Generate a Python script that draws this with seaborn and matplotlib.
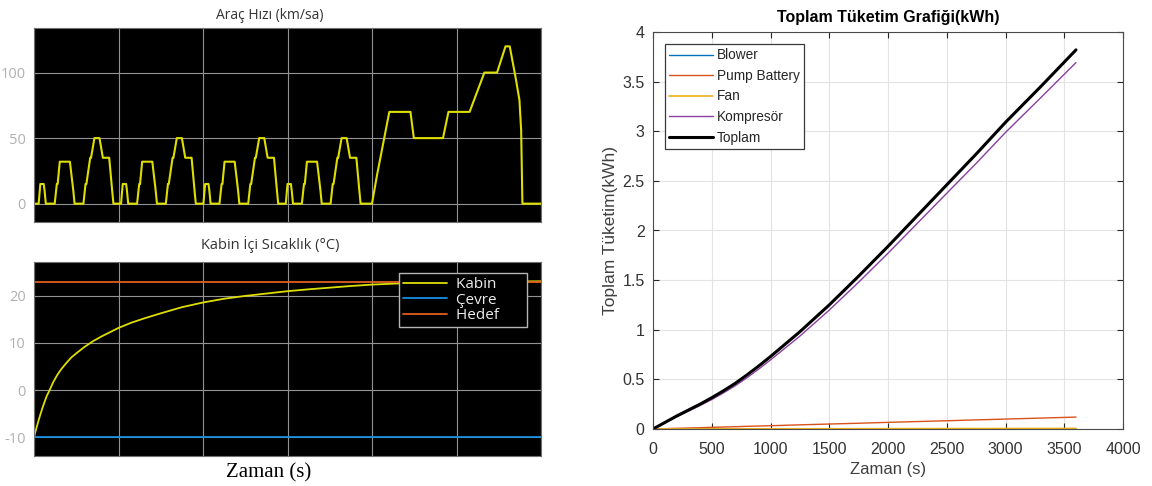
import numpy as np
import pandas as pd
import matplotlib
matplotlib.use("Agg")
import matplotlib.pyplot as plt
import seaborn as sns

# ---------------- data ----------------
# vehicle speed profile (time s, speed km/h) read from the top-left scope
speed_t = [0, 11, 15, 23, 25, 28, 49, 54, 56, 61, 85, 93, 96, 117, 122, 124, 133, 135, 143, 155, 163, 176, 178, 185, 188,
           195, 206, 210, 218, 220, 223, 244, 249, 251, 256, 280, 288, 291, 312, 317, 319, 328, 330, 338, 350, 358, 371, 373, 380, 383,
           390, 401, 405, 413, 415, 418, 439, 444, 446, 451, 475, 483, 486, 507, 512, 514, 523, 525, 533, 545, 553, 566, 568, 575, 578,
           585, 596, 600, 608, 610, 613, 634, 639, 641, 646, 670, 678, 681, 702, 707, 709, 718, 720, 728, 740, 748, 761, 763, 770, 773,
           780, 800, 812, 841, 891, 899, 968, 981, 1031, 1066, 1096, 1116, 1126, 1140, 1149, 1153, 1156, 1200]
speed_v = [0, 0, 15, 15, 10, 0, 0, 15, 15, 32, 32, 10, 0, 0, 15, 15, 35, 35, 50, 50, 35, 35, 35, 10, 0,
           0, 0, 15, 15, 10, 0, 0, 15, 15, 32, 32, 10, 0, 0, 15, 15, 35, 35, 50, 50, 35, 35, 35, 10, 0,
           0, 0, 15, 15, 10, 0, 0, 15, 15, 32, 32, 10, 0, 0, 15, 15, 35, 35, 50, 50, 35, 35, 35, 10, 0,
           0, 0, 15, 15, 10, 0, 0, 15, 15, 32, 32, 10, 0, 0, 15, 15, 35, 35, 50, 50, 35, 35, 35, 10, 0,
           0, 0, 22, 70, 70, 50, 50, 70, 70, 100, 100, 120, 120, 96, 79, 56, 0, 0]

# cabin temperature (time s, degC)
cabin_t = [0, 5, 10, 15, 20, 25, 30, 37, 45, 55, 65, 77, 88, 100, 120, 140, 160, 180, 200, 230, 260, 300, 350,
           400, 450, 500, 550, 600, 650, 700, 750, 800, 850, 900, 1000, 1100, 1200]
cabin_T = [-10, -8.3, -6.7, -5.2, -3.8, -2.5, -1.3, 0, 1.6, 3.2, 4.5, 5.8, 6.9, 7.8, 9.2, 10.4, 11.4, 12.3, 13.2,
           14.3, 15.2, 16.3, 17.6, 18.6, 19.4, 20.0, 20.5, 21.0, 21.4, 21.75, 22.1, 22.4, 22.6, 22.75, 22.95, 23.05, 23.1]
ambient_T = -10
target_T = 23
temp_labels = ["Kabin", "Çevre", "Hedef"]

# energy consumption (time s, kWh)
energy_t = [0, 100, 200, 300, 400, 500, 600, 700, 800, 900, 1000, 1250, 1500, 1750, 2000, 2250, 2500, 2750, 3000, 3300, 3600]
blower = [0, 0.0001, 0.0001, 0.0002, 0.0002, 0.0003, 0.0003, 0.0004, 0.0005, 0.0005, 0.0006, 0.0007, 0.0009, 0.001,
          0.0012, 0.0013, 0.0015, 0.0016, 0.0018, 0.0019, 0.002]
pump_battery = [0, 0.0035, 0.007, 0.01, 0.013, 0.017, 0.02, 0.023, 0.027, 0.03, 0.033, 0.042, 0.05, 0.058, 0.067,
                0.075, 0.083, 0.092, 0.1, 0.11, 0.12]
fan = [0, 0.0002, 0.0003, 0.0005, 0.0007, 0.0008, 0.001, 0.0012, 0.0013, 0.0015, 0.0017, 0.0021, 0.0025, 0.0029,
       0.0033, 0.0038, 0.0042, 0.0046, 0.005, 0.0055, 0.006]
kompresor = [0, 0.061, 0.122, 0.179, 0.236, 0.297, 0.364, 0.436, 0.517, 0.604, 0.696, 0.936, 1.198, 1.479, 1.771,
             2.073, 2.375, 2.676, 2.988, 3.338, 3.692]
toplam = [0, 0.065, 0.13, 0.19, 0.25, 0.315, 0.385, 0.46, 0.545, 0.635, 0.73, 0.98, 1.25, 1.54, 1.84, 2.15, 2.46,
          2.77, 3.09, 3.45, 3.82]
energy_labels = ["Blower", "Pump Battery", "Fan", "Kompresör", "Toplam"]

# ---------------- style ----------------
sns.set_style("white")
plt.rcParams['font.family'] = ['Open Sans', 'DejaVu Sans']
plt.rcParams['axes.unicode_minus'] = False

fig = plt.figure(figsize=(11.52, 4.86), dpi=100)
fig.patch.set_facecolor("white")

W, H = 1152, 486
def box(l, t, r, b):
    return [l / W, 1 - b / H, (r - l) / W, (b - t) / H]

ax1 = fig.add_axes(box(34, 28, 541, 222))
ax2 = fig.add_axes(box(34, 262, 541, 456))
ax3 = fig.add_axes(box(653, 32, 1123, 429))

scope_grid = "#939393"
tick_gray = "#b0b0b0"
title_gray = "#333333"

def scope_style(ax):
    ax.set_facecolor("black")
    ax.set_xlim(0, 1200)
    ax.set_xticks(np.arange(0, 1201, 200))
    ax.set_xticklabels([])
    ax.grid(True, color=scope_grid, lw=0.8)
    for s in ax.spines.values():
        s.set_color("#707070")
        s.set_linewidth(0.8)
    ax.tick_params(axis="both", length=0, colors=tick_gray, labelsize=10.5, pad=6)
    ax.set_xlabel("")
    ax.set_ylabel("")

# --- top-left: speed ---
df_speed = pd.DataFrame({"t": speed_t, "v": speed_v})
sns.lineplot(data=df_speed, x="t", y="v", ax=ax1, color="#dede00", lw=1.5, sort=False)
scope_style(ax1)
ax1.set_ylim(-14, 134)
ax1.set_yticks([0, 50, 100])
ax1.text(0.465, 1.025, "Araç Hızı (km/sa)", transform=ax1.transAxes, ha="center", va="bottom",
         color=title_gray, fontsize=10)

# --- bottom-left: temperatures ---
df_cab = pd.DataFrame({"t": cabin_t, "T": cabin_T})
sns.lineplot(data=df_cab, x="t", y="T", ax=ax2, color="#dede00", lw=1.3, label=temp_labels[0])
df_amb = pd.DataFrame({"t": [0, 1200], "T": [ambient_T, ambient_T]})
sns.lineplot(data=df_amb, x="t", y="T", ax=ax2, color="#1a8ee0", lw=1.3, label=temp_labels[1])
df_tgt = pd.DataFrame({"t": [0, 1200], "T": [target_T, target_T]})
sns.lineplot(data=df_tgt, x="t", y="T", ax=ax2, color="#e0601e", lw=1.3, label=temp_labels[2])
scope_style(ax2)
ax2.set_ylim(-14, 27.2)
ax2.set_yticks([-10, 0, 10, 20])
ax2.text(0.465, 1.045, "Kabin İçi Sıcaklık (°C)", transform=ax2.transAxes, ha="center", va="bottom",
         color=title_gray, fontsize=10.5)
h2, l2 = ax2.get_legend_handles_labels()
leg2 = ax2.legend(h2, [lab + "      " for lab in l2], loc="upper right", bbox_to_anchor=(0.972, 0.943),
                  borderaxespad=0, facecolor="black", edgecolor="#b5b5b5", framealpha=1, fancybox=False,
                  fontsize=11, handlelength=2.9, handletextpad=0.6, labelspacing=0.05,
                  borderpad=0.25)
for t in leg2.get_texts():
    t.set_color("#ececec")
leg2.get_frame().set_linewidth(1.0)
ax2.text(0.462, -0.035, "Zaman (s)", transform=ax2.transAxes, ha="center", va="top",
         fontsize=15, family="Liberation Serif", color="black")

# --- right: energy ---
mat_colors = ["#0072BD", "#D95319", "#EDB120", "#8B3FA0", "black"]
series = [blower, pump_battery, fan, kompresor, toplam]
widths = [1.0, 1.0, 1.2, 1.0, 2.2]
for lab, vals, c, w in zip(energy_labels, series, mat_colors, widths):
    d = pd.DataFrame({"t": energy_t, "e": vals})
    sns.lineplot(data=d, x="t", y="e", ax=ax3, color=c, lw=w, label=lab)

ax3.set_facecolor("white")
ax3.set_xlim(0, 4000)
ax3.set_ylim(0, 4)
ax3.set_xticks(np.arange(0, 4001, 500))
ax3.set_yticks(np.arange(0, 4.01, 0.5))
ax3.set_yticklabels(["0", "0.5", "1", "1.5", "2", "2.5", "3", "3.5", "4"])
ax3.grid(True, color="#e3e3e3", lw=0.8)
for s in ax3.spines.values():
    s.set_color("#4a4a4a")
    s.set_linewidth(0.8)
ax3.tick_params(axis="both", direction="in", length=4, width=0.8, colors="#262626",
                labelsize=11.5, top=True, right=True, bottom=True, left=True, pad=6)
ax3.tick_params(axis="x", pad=9)
for lbl in ax3.get_xticklabels() + ax3.get_yticklabels():
    lbl.set_color("#333333")
    lbl.set_family("Liberation Sans")
ax3.set_xlabel("Zaman (s)", fontsize=12, color="#404040", family="Liberation Sans", labelpad=4)
ax3.set_ylabel("Toplam Tüketim(kWh)", fontsize=12.5, color="#404040", family="Liberation Sans", labelpad=3)
ax3.set_title("Toplam Tüketim Grafiği(kWh)", fontsize=11.5, fontweight="bold", color="black",
              family="Liberation Sans", pad=7)
leg3 = ax3.legend(loc="upper left", bbox_to_anchor=(0.0255, 0.969), borderaxespad=0,
                  facecolor="white", edgecolor="#3a3a3a", framealpha=1, fancybox=False,
                  prop={"family": "Liberation Sans", "size": 9.8}, handlelength=3.2,
                  handletextpad=0.3, labelspacing=0.48, borderpad=0.3)
leg3.get_frame().set_linewidth(0.9)
for t in leg3.get_texts():
    t.set_color("#262626")

fig.savefig("out.png", dpi=100, facecolor="white")
